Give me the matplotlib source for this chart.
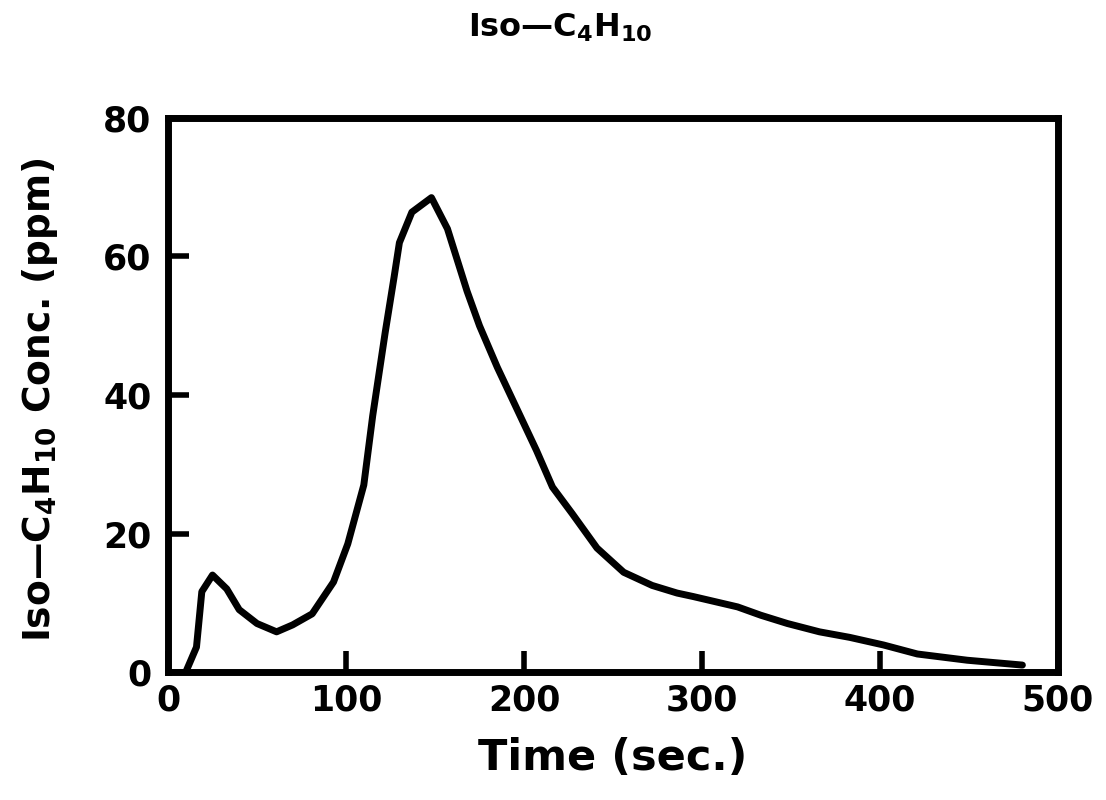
import matplotlib
matplotlib.use("Agg")
import matplotlib.pyplot as plt

plt.rcParams['font.family'] = ['DejaVu Sans']
plt.rcParams['font.weight'] = 'bold'
plt.rcParams['mathtext.fontset'] = 'custom'
plt.rcParams['mathtext.bf'] = 'DejaVu Sans:bold'
plt.rcParams['mathtext.rm'] = 'DejaVu Sans:bold'
plt.rcParams['mathtext.default'] = 'bf'

time_s = [10, 16, 19, 25, 33, 40, 50, 61, 70, 81, 93, 101, 110, 115, 122, 127,
          130, 137, 148, 157, 168, 175, 185, 196, 207, 216, 227, 241, 256, 272,
          286, 295, 320, 333, 348, 366, 383, 402, 421, 449, 480]
conc_ppm = [0, 3.6, 11.6, 14, 12, 9, 7, 5.8, 6.8, 8.4, 13, 18.5, 27, 37, 49, 57,
            62, 66.4, 68.5, 64, 55, 50, 44, 38, 32, 26.7, 22.9, 17.9, 14.4, 12.5,
            11.4, 10.9, 9.4, 8.2, 7.0, 5.8, 5.0, 3.9, 2.6, 1.7, 1.0]

x_ticks = [0, 100, 200, 300, 400, 500]
y_ticks = [0, 20, 40, 60, 80]

fig = plt.figure(figsize=(11.06, 8.0), dpi=100)
ax = fig.add_axes([168/1106, 1 - 672/800, (1058 - 168)/1106, (672 - 118)/800])

ax.plot(time_s, conc_ppm, color='black', linewidth=5, solid_joinstyle='round',
        solid_capstyle='round')

ax.set_xlim(0, 500)
ax.set_ylim(0, 80)
ax.set_xticks(x_ticks)
ax.set_yticks(y_ticks)
ax.set_xticklabels([str(v) for v in x_ticks], fontsize=25, fontweight='heavy')
ax.set_yticklabels([str(v) for v in y_ticks], fontsize=25, fontweight='heavy')
ax.tick_params(axis='both', direction='in', length=15, width=4, color='black')
ax.tick_params(axis='x', pad=8)
ax.tick_params(axis='y', pad=12)
for s in ax.spines.values():
    s.set_linewidth(5)
    s.set_color('black')

ax.set_xlabel('Time (sec.)', fontsize=31, fontweight='heavy', labelpad=14)
fig.text(40/1106, 1 - 400/800, r'Iso—C$_{4}$H$_{10}$ Conc. (ppm)', rotation=90,
         fontsize=27, fontweight='heavy', ha='center', va='center')
fig.text(560/1106, 1 - 28/800, r'Iso—C$_{4}$H$_{10}$', fontsize=23,
         fontweight='heavy', ha='center', va='center')

fig.savefig('out.png', dpi=100)
